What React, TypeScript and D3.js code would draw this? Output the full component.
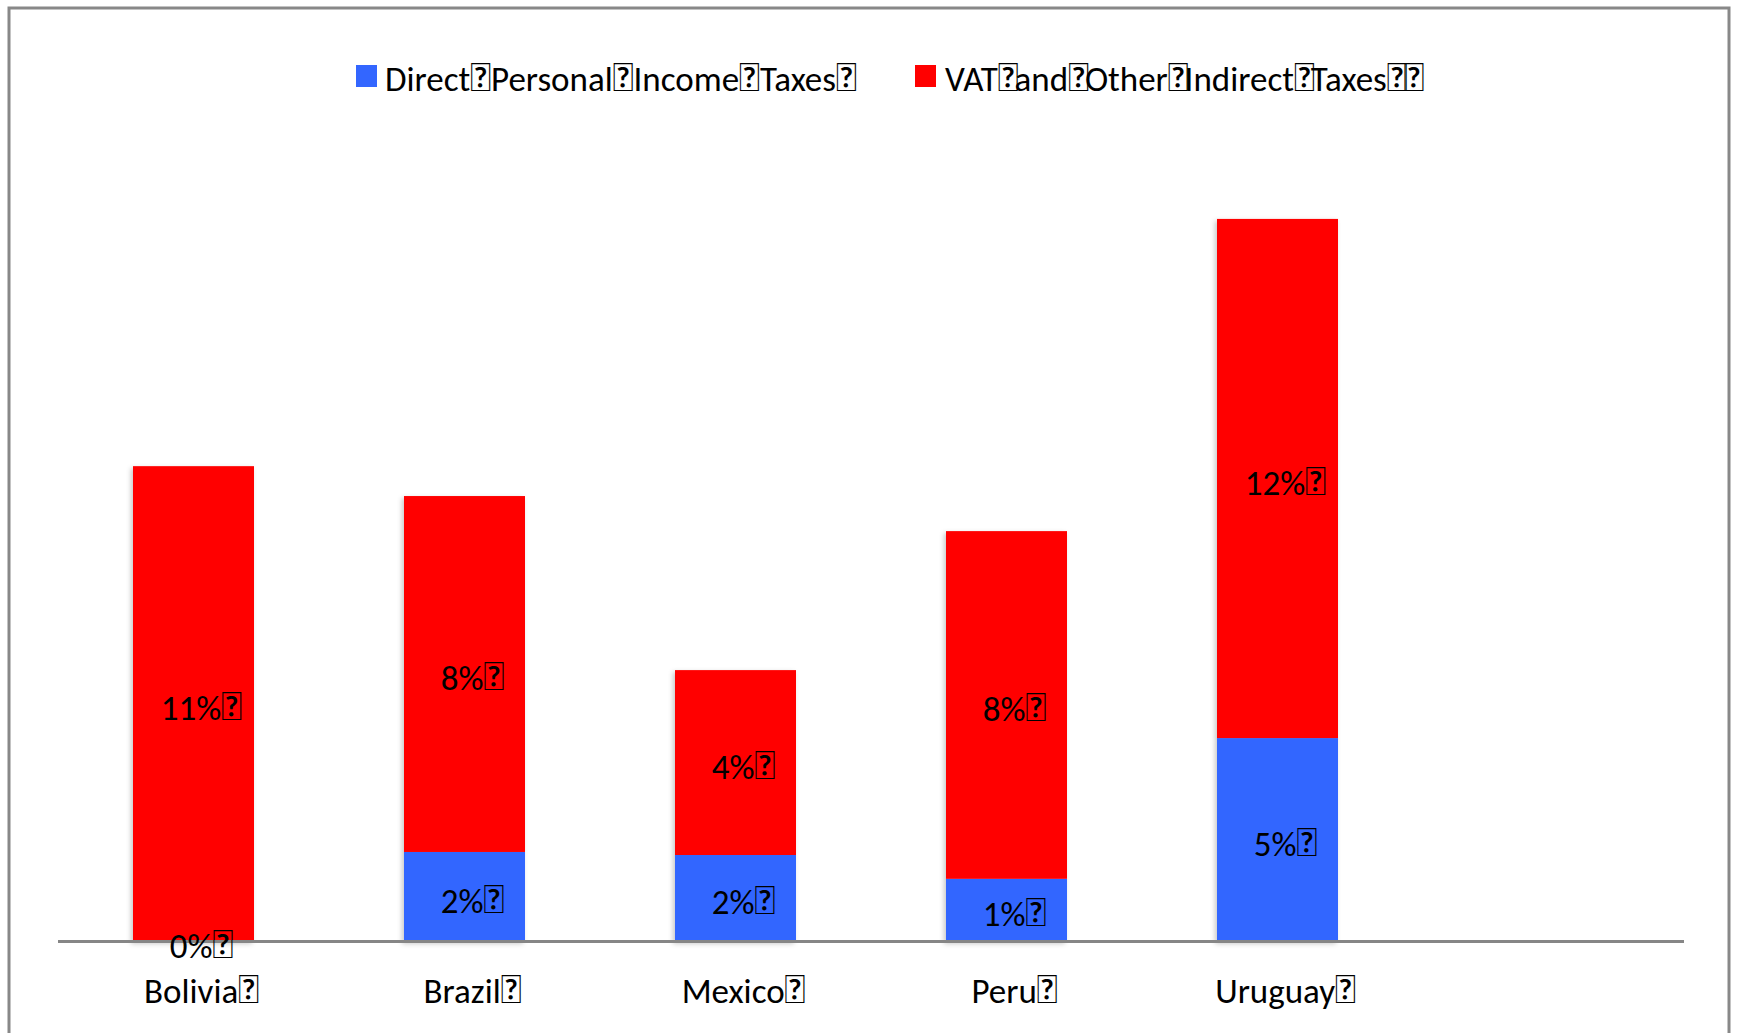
import React from "react";
import * as d3 from "d3";

const BOX = "\uF020";
const categories = ["Bolivia", "Brazil", "Mexico", "Peru", "Uruguay"];
const directTax = [0, 2.07, 2.0, 1.45, 4.7];
const vatTax = [10.98, 8.22, 4.27, 8.03, 11.99];
const seriesLabels = [
  "Direct" + BOX + "Personal" + BOX + "Income" + BOX + "Taxes" + BOX,
  "VAT" + BOX + "and" + BOX + "Other" + BOX + "Indirect" + BOX + "Taxes" + BOX + BOX,
];
const seriesColors = ["#3366FF", "#FF0000"];

const W = 1737;
const H = 1033;
const FONT = "Carlito, Lato, 'Liberation Sans', sans-serif";
const BOX_SIZE = 41;

function withBoxes(s: string, tighten = 0) {
  const parts = s.split(BOX);
  const out: React.ReactNode[] = [];
  parts.forEach((p, i) => {
    if (p)
      out.push(
        <tspan key={"t" + i} dx={i > 0 ? -tighten : 0}>
          {p}
        </tspan>
      );
    if (i < parts.length - 1)
      out.push(
        <tspan key={"b" + i} fontSize={BOX_SIZE} dx={i > 0 && !p ? -tighten : 0}>
          {BOX}
        </tspan>
      );
  });
  return out;
}

export default function App() {
  const baseY = 941.6;
  const step = 271;
  const left = 58;
  const x = d3.scaleBand<string>().domain(categories).range([left, left + categories.length * step]).padding(0);
  const y = d3.scaleLinear().domain([0, 20]).range([baseY, baseY - 20 * 43.3]);
  const barW = 121;
  const fmt = d3.format(".0%");
  const stack = d3
    .stack<any>()
    .keys(["direct", "vat"])(categories.map((c, i) => ({ cat: c, direct: directTax[i], vat: vatTax[i] })));
  const boxShift = 8;

  return (
    <svg width={W} height={H} style={{ position: "absolute", left: 0, top: 0, background: "#fff" }} fontFamily={FONT}>
      <defs>
        <filter id="sh" x="-20%" y="-20%" width="140%" height="140%">
          <feDropShadow dx={-2} dy={2} stdDeviation={2.5} floodColor="#000" floodOpacity={0.22} />
        </filter>
      </defs>
      <rect x={9} y={8} width={1720} height={1100} fill="none" stroke="#888" strokeWidth={3} />
      {categories.map((c, i) => {
        const cx = (x(c) as number) + x.bandwidth() / 2;
        return (
          <g key={c} filter="url(#sh)">
            {stack.map((s, k) => (
              <rect
                key={k}
                x={cx - barW / 2}
                y={y(s[i][1])}
                width={barW}
                height={Math.max(0, y(s[i][0]) - y(s[i][1]))}
                fill={seriesColors[k]}
              />
            ))}
          </g>
        );
      })}
      <line x1={left} x2={left + 6 * step} y1={baseY} y2={baseY} stroke="#868686" strokeWidth={3} />
      {categories.map((c, i) => {
        const cx = (x(c) as number) + x.bandwidth() / 2;
        return (
          <g key={c + "l"} fontSize={35} fill="#000" textAnchor="middle">
            {stack.map((s, k) => {
              const v = s[i][1] - s[i][0];
              const mid = (y(s[i][0]) + y(s[i][1])) / 2;
              return (
                <text key={k} x={cx + boxShift} y={mid + 16}>
                  {withBoxes(fmt(v / 100) + BOX)}
                </text>
              );
            })}
            <text x={cx + boxShift} y={1003}>
              {withBoxes(c + BOX)}
            </text>
          </g>
        );
      })}
      <g fontSize={35} fill="#000">
        <rect x={356} y={65} width={21} height={22} fill={seriesColors[0]} />
        <text x={385} y={91}>{withBoxes(seriesLabels[0])}</text>
        <rect x={915} y={65} width={21} height={22} fill={seriesColors[1]} />
        <text x={945} y={91}>{withBoxes(seriesLabels[1], 4)}</text>
      </g>
    </svg>
  );
}
